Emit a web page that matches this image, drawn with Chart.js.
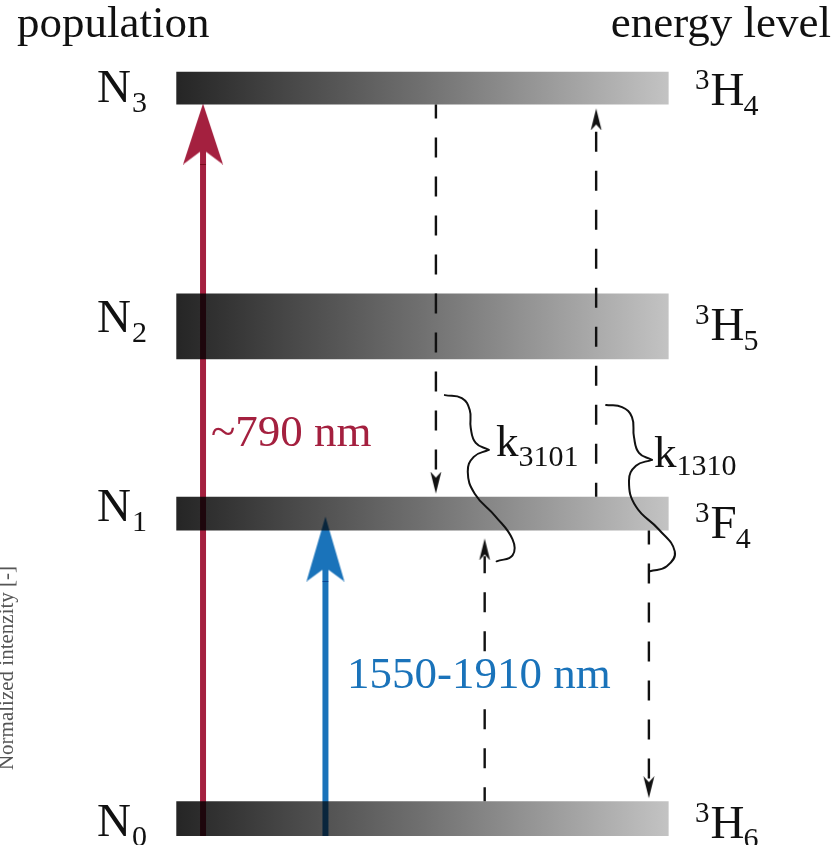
<!DOCTYPE html>
<html><head><meta charset="utf-8">
<script src="https://cdn.jsdelivr.net/npm/chart.js@4.4.0/dist/chart.umd.min.js"></script>
<style>html,body{margin:0;padding:0;background:#fff;overflow:hidden}canvas{display:block;background:#fff}</style>
</head><body>
<canvas id="c" width="837" height="845"></canvas>
<script>
// ---------- diagram data (diagram units: x across, y downward) ----------
const levelNames = ['N0', 'N1', 'N2', 'N3'];
const levelTermSup = ['3', '3', '3', '3'];
const levelTermLetter = ['H', 'F', 'H', 'H'];
const levelTermSub = ['6', '4', '5', '4'];
const levelTop = [803, 497, 293, 70];
const levelBottom = [838, 531, 359, 103];
const barSpan = [175, 670];

const pumpLabels = ['~790 nm', '1550-1910 nm'];
const pumpX = [202, 325];
const pumpFromY = [838, 838];
const pumpTipY = [102, 517];

const transferX = [436, 597, 485, 650];
const transferFromY = [103, 497, 803, 531];
const transferTipY = [494, 107, 539, 800];

const rateMain = ['k', 'k'];
const rateSub = ['3101', '1310'];
const waveA1 = [[445,395],[462,398],[470,410],[471,428],[476,443],[489,450]];
const waveA2 = [[489,450],[474,457],[468,472],[475,494],[496,517],[513,540],[513,556],[497,562]];
const waveB1 = [[607,405],[623,407],[633,417],[635,437],[640,453],[653,460]];
const waveB2 = [[653,460],[637,466],[630,481],[637,507],[660,530],[676,552],[668,567],[651,572]];

// ---------- styling / layout ----------
const SERIF = '"Liberation Serif", "DejaVu Serif", serif';
const RED = '#a4203f', BLUE = '#1a73ba';
const nameBaseline = [838, 521, 332, 100];
const termBaseline = [840, 539, 340, 103];

function makeHead(color, w, L, n, shaftW) {
  const c = document.createElement('canvas');
  c.width = Math.ceil(w) + 2; if (c.width % 2) c.width++;
  c.height = 2 * L;
  const g = c.getContext('2d');
  const cx = c.width / 2, ty = L;
  g.fillStyle = color;
  g.beginPath();
  g.moveTo(cx, ty); g.lineTo(cx + w / 2, ty + L); g.lineTo(cx, ty + n); g.lineTo(cx - w / 2, ty + L);
  g.closePath(); g.fill();
  if (shaftW) g.fillRect(cx - shaftW / 2, ty + n - 2, shaftW, L - n + 2);
  return c;
}
const redHead = {w: 40, L: 61, n: 46};
const blueHead = {w: 38, L: 65, n: 51};
const smallHead = {w: 11, L: 22, n: 16};
const redHeadImg = makeHead(RED, redHead.w, redHead.L, redHead.n, 6);
const blueHeadImg = makeHead(BLUE, blueHead.w, blueHead.L, blueHead.n, 6);
const blackHeadImg = makeHead('#111', smallHead.w, smallHead.L, smallHead.n, 0);

function pts(arr) { return arr.map(p => ({x: p[0], y: p[1]})); }

const datasets = [];
function barGradient(ctx) {
  const chart = ctx.chart;
  if (!chart.chartArea) return '#777';
  const xs = chart.scales.x;
  const g = chart.ctx.createLinearGradient(xs.getPixelForValue(barSpan[0]), 0, xs.getPixelForValue(barSpan[1]), 0);
  g.addColorStop(0, '#252525');
  g.addColorStop(0.5, '#707070');
  g.addColorStop(1, '#c3c3c3');
  return g;
}
levelNames.forEach((nm, i) => {
  datasets.push({
    label: nm + ' top', data: [{x: barSpan[0], y: levelTop[i]}, {x: barSpan[1], y: levelTop[i]}],
    fill: '+1', backgroundColor: barGradient, borderColor: 'rgba(0,0,0,0)', borderWidth: 0, pointRadius: 0, tension: 0
  });
  datasets.push({
    label: nm + ' bottom', data: [{x: barSpan[0], y: levelBottom[i]}, {x: barSpan[1], y: levelBottom[i]}],
    fill: false, borderColor: 'rgba(0,0,0,0)', borderWidth: 0, pointRadius: 0, tension: 0
  });
});
const pumpColors = [RED, BLUE];
const pumpHeads = [redHead, blueHead];
const pumpImgs = [redHeadImg, blueHeadImg];
pumpX.forEach((x, i) => {
  datasets.push({
    label: pumpLabels[i] + ' shaft', multiply: true,
    data: [{x: x, y: pumpFromY[i]}, {x: x, y: pumpTipY[i] + pumpHeads[i].L}],
    borderColor: pumpColors[i], borderWidth: 6, borderCapStyle: 'butt', pointRadius: 0, fill: false, tension: 0
  });
  datasets.push({
    label: pumpLabels[i] + ' head', multiply: true, showLine: false,
    data: [{x: x, y: pumpTipY[i]}],
    pointStyle: pumpImgs[i], pointRadius: 1, pointRotation: 0, pointHoverRadius: 1
  });
});
transferX.forEach((x, i) => {
  const dir = transferTipY[i] > transferFromY[i] ? 1 : -1;
  datasets.push({
    label: 'transfer ' + i,
    data: [{x: x, y: transferFromY[i]}, {x: x, y: transferTipY[i] - dir * (smallHead.L - 4)}],
    borderColor: '#111', borderWidth: 2.4, borderDash: [20, 19], borderDashOffset: 6,
    borderCapStyle: 'butt', pointRadius: 0, fill: false, tension: 0
  });
});
datasets.push({
  label: 'transfer heads', showLine: false,
  data: transferX.map((x, i) => ({x: x, y: transferTipY[i]})),
  pointStyle: blackHeadImg, pointRadius: 1, pointHoverRadius: 1,
  pointRotation: transferX.map((x, i) => transferTipY[i] > transferFromY[i] ? 180 : 0)
});
[waveA1, waveA2, waveB1, waveB2].forEach((w, i) => {
  datasets.push({
    label: 'wave ' + i, data: pts(w), borderColor: '#111', borderWidth: 2,
    tension: 0.45, pointRadius: 0, fill: false, borderCapStyle: 'round'
  });
});

const multiplyPlugin = {
  id: 'multiplyPlugin',
  beforeDatasetDraw(chart, args) {
    if (chart.data.datasets[args.index].multiply) { chart.ctx.save(); chart.ctx.globalCompositeOperation = 'multiply'; }
  },
  afterDatasetDraw(chart, args) {
    if (chart.data.datasets[args.index].multiply) chart.ctx.restore();
  }
};

function drawParts(ctx, x, y, parts, color, knockout) {
  ctx.textBaseline = 'alphabetic';
  ctx.textAlign = 'left';
  if (knockout) {
    let w = 0;
    parts.forEach(p => { ctx.font = p.size + 'px ' + SERIF; w += ctx.measureText(p.t).width; });
    ctx.fillStyle = '#fff';
    ctx.fillRect(x - 4, y - parts[0].size * 0.78, w + 8, parts[0].size * 0.98);
  }
  ctx.fillStyle = color;
  let cx = x;
  parts.forEach(p => {
    ctx.font = p.size + 'px ' + SERIF;
    ctx.fillText(p.t, cx + (p.dx || 0), y + (p.dy || 0));
    cx += ctx.measureText(p.t).width + (p.dx || 0);
  });
}

const textPlugin = {
  id: 'textPlugin',
  afterDatasetsDraw(chart) {
    const ctx = chart.ctx;
    const ys = chart.scales.y;
    ctx.save();
    ctx.fillStyle = '#111';
    ctx.font = '45px ' + SERIF;
    ctx.textBaseline = 'alphabetic';
    ctx.textAlign = 'left';
    ctx.fillText('population', 17, 37);
    ctx.textAlign = 'right';
    ctx.fillText('energy level', 831, 37);
    levelNames.forEach((nm, i) => {
      drawParts(ctx, 97, ys.getPixelForValue(nameBaseline[i]), [
        {t: nm.charAt(0), size: 47},
        {t: nm.slice(1), size: 30, dy: 10, dx: 1}
      ], '#111');
      drawParts(ctx, 695, ys.getPixelForValue(termBaseline[i]), [
        {t: levelTermSup[i], size: 29, dy: -16},
        {t: levelTermLetter[i], size: 47, dx: 1},
        {t: levelTermSub[i], size: 30, dy: 10, dx: -1}
      ], '#111');
    });
    drawParts(ctx, 211, 446, [{t: pumpLabels[0], size: 45}], RED);
    drawParts(ctx, 347, 688, [{t: pumpLabels[1], size: 45}], BLUE, true);
    drawParts(ctx, 496, 456, [{t: rateMain[0], size: 45}, {t: rateSub[0], size: 30, dy: 10}], '#111');
    drawParts(ctx, 654, 467, [{t: rateMain[1], size: 45}, {t: rateSub[1], size: 30, dy: 8}], '#111');
    ctx.translate(13, 668);
    ctx.rotate(-Math.PI / 2);
    ctx.textAlign = 'center';
    ctx.fillStyle = '#555';
    ctx.font = '21px ' + SERIF;
    ctx.fillText('Normalized intenzity [-]', 0, 0);
    ctx.restore();
  }
};

new Chart(document.getElementById('c'), {
  type: 'line',
  data: {datasets: datasets},
  options: {
    responsive: false, animation: false, events: [],
    layout: {padding: 0},
    scales: {
      x: {type: 'linear', min: 0, max: 837, display: false},
      y: {type: 'linear', min: 0, max: 845, reverse: true, display: false}
    },
    plugins: {
      legend: {display: false}, tooltip: {enabled: false}, title: {display: false},
      filler: {propagate: false, drawTime: 'beforeDatasetsDraw'}
    }
  },
  plugins: [multiplyPlugin, textPlugin]
});
</script>
</body></html>
